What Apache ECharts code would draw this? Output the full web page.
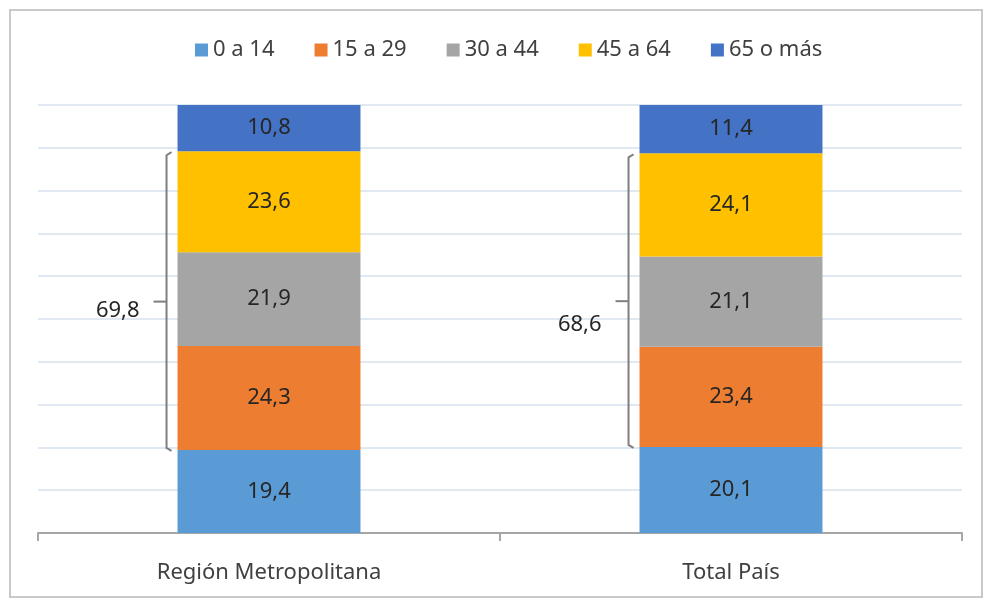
<!DOCTYPE html>
<html>
<head>
<meta charset="utf-8">
<script src="https://cdn.jsdelivr.net/npm/echarts@6/dist/echarts.min.js"></script>
<style>
  html, body { margin: 0; padding: 0; background: #fff; }
  #chart { width: 984px; height: 600px; }
</style>
</head>
<body>
<div id="chart"></div>
<script>
// datos del gráfico
var categorias = ["Región Metropolitana", "Total País"];
var grupos = ["0 a 14", "15 a 29", "30 a 44", "45 a 64", "65 o más"];
var edad0a14 = [19.4, 20.1];
var edad15a29 = [24.3, 23.4];
var edad30a44 = [21.9, 21.1];
var edad45a64 = [23.6, 24.1];
var edad65mas = [10.8, 11.4];
var colores = ["#5B9BD5", "#ED7D31", "#A5A5A5", "#FFC000", "#4472C4"];

var valores = [edad0a14, edad15a29, edad30a44, edad45a64, edad65mas];
var fuente = "'Noto Sans', 'Open Sans', sans-serif";
var tam = 22;

// llave: desde el tope de 0-14 hasta el tope de 45-64, etiqueta = 15 a 64
var llaves = categorias.map(function (c, i) {
  var bajo = edad0a14[i];
  var alto = bajo + edad15a29[i] + edad30a44[i] + edad45a64[i];
  var suma = edad15a29[i] + edad30a44[i] + edad45a64[i];
  return [i, bajo, alto, Math.round(suma * 10) / 10];
});
var desplazTexto = [9, 24]; // ajuste vertical de la etiqueta de cada llave

var myChart = echarts.init(document.getElementById("chart"));

var series = grupos.map(function (g, k) {
  return {
    name: g,
    type: "bar",
    stack: "total",
    barWidth: "39.6%",
    data: valores[k],
    itemStyle: { color: colores[k] },
    label: {
      show: true,
      position: "inside",
      color: "#262626",
      fontFamily: fuente,
      fontSize: tam,
      formatter: function (p) {
        return String(p.value).replace(".", ",");
      },
    },
  };
});

series.push({
  type: "custom",
  silent: true,
  data: llaves,
  encode: { x: 0, y: [1, 2] },
  z: 5,
  renderItem: function (params, api) {
    var i = api.value(0);
    var p1 = api.coord([i, api.value(1)]);
    var p2 = api.coord([i, api.value(2)]);
    var ancho = api.size([1, 0])[0];
    var x = p1[0] - ancho * 0.396 / 2 - 11;
    var yBajo = p1[1] + 1;
    var yAlto = p2[1] + 1;
    var yMedio = (yBajo + yAlto) / 2;
    var estilo = { stroke: "#7f7f7f", lineWidth: 2, fill: null };
    return {
      type: "group",
      children: [
        {
          type: "polyline",
          shape: {
            points: [
              [x + 5, yAlto],
              [x, yAlto + 3],
              [x, yBajo - 3],
              [x + 5, yBajo],
            ],
          },
          style: estilo,
        },
        {
          type: "line",
          shape: { x1: x - 13, y1: yMedio, x2: x, y2: yMedio },
          style: estilo,
        },
        {
          type: "text",
          style: {
            x: x - 27,
            y: yMedio + desplazTexto[params.dataIndex],
            text: String(api.value(3)).replace(".", ","),
            align: "right",
            verticalAlign: "middle",
            fill: "#262626",
            font: tam + "px " + fuente,
          },
        },
      ],
    };
  },
});

myChart.setOption({
  animation: false,
  backgroundColor: "#fff",
  graphic: [
    {
      type: "rect",
      shape: { x: 10, y: 10, width: 972, height: 587 },
      style: { fill: null, stroke: "#c9c9c9", lineWidth: 2 },
      silent: true,
    },
  ],
  legend: {
    data: grupos,
    top: 34,
    left: 190,
    itemWidth: 13,
    itemHeight: 13,
    itemGap: 40,
    icon: "rect",
    textStyle: { color: "#404040", fontFamily: fuente, fontSize: tam },
  },
  grid: { left: 38, right: 22, top: 105, bottom: 67 },
  xAxis: {
    type: "category",
    data: categorias,
    axisLine: { lineStyle: { color: "#a6a6a6", width: 2 } },
    axisTick: { show: true, length: 8, lineStyle: { color: "#a6a6a6", width: 2 } },
    axisLabel: { color: "#404040", fontFamily: fuente, fontSize: tam, margin: 29 },
  },
  yAxis: {
    type: "value",
    min: 0,
    max: 100,
    interval: 10,
    axisLabel: { show: false },
    axisLine: { show: false },
    axisTick: { show: false },
    splitLine: { lineStyle: { color: "#d6e0ec", width: 1.5 } },
  },
  series: series,
});
</script>
</body>
</html>
